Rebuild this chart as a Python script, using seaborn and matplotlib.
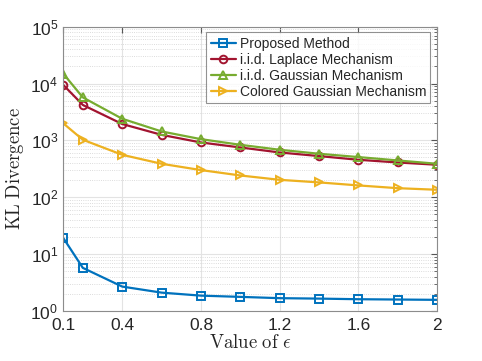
import numpy as np
import pandas as pd
import seaborn as sns
import matplotlib
matplotlib.use('Agg')
import matplotlib.pyplot as plt
from matplotlib.ticker import LogLocator, NullFormatter, FixedLocator

# values
eps = [0.1, 0.2, 0.4, 0.6, 0.8, 1.0, 1.2, 1.4, 1.6, 1.8, 2.0]
proposed = [19.3, 5.7, 2.67, 2.09, 1.85, 1.76, 1.67, 1.64, 1.60, 1.58, 1.56]
laplace = [9500, 4200, 1940, 1250, 918, 750, 612, 529, 455, 408, 372]
gaussian = [15000, 5700, 2400, 1435, 1050, 835, 683, 581, 508, 443, 387]
colored = [2000, 1025, 557, 387, 300, 241, 202, 182, 161, 144, 135]

names = ["Proposed Method", "i.i.d. Laplace Mechanism",
         "i.i.d. Gaussian Mechanism", "Colored Gaussian Mechanism"]
colors = ["#0072BD", "#A2142F", "#77AC30", "#EDB120"]
markers = ["s", "o", "^", ">"]
xticks = [0.1, 0.4, 0.8, 1.2, 1.6, 2]

df = pd.DataFrame({"eps": eps * 4,
                   "kl": proposed + laplace + gaussian + colored,
                   "method": sum([[n] * len(eps) for n in names], [])})

sns.set_style('white')
plt.rcParams['font.family'] = ['Liberation Sans', 'DejaVu Sans']
plt.rcParams['mathtext.fontset'] = 'cm'

fig = plt.figure(figsize=(4.82, 3.61), dpi=100)
ax = fig.add_axes([0.131, 0.139, 0.776, 0.787])

for n, c, m in zip(names, colors, markers):
    sub = df[df.method == n]
    sns.lineplot(data=sub, x="eps", y="kl", color=c, marker=m, mfc='none',
                 mec=c, mew=1.4, ms=5.5, lw=1.6, label=n, ax=ax)

ax.set_yscale('log')
ax.set_ylim(1, 1e5)
ax.set_xlim(0.1, 2)
ax.xaxis.set_major_locator(FixedLocator(xticks))
ax.set_xticklabels([f"{t:g}" for t in xticks])
ax.yaxis.set_major_locator(LogLocator(base=10, numticks=10))
ax.yaxis.set_minor_locator(LogLocator(base=10, subs=np.arange(2, 10), numticks=10))
ax.yaxis.set_minor_formatter(NullFormatter())

ax.grid(True, which='major', color='#e3e3e3', lw=0.8)
ax.grid(True, which='minor', axis='y', color='#d0d0d0', lw=0.6, ls=':')
ax.set_axisbelow(True)

for s in ax.spines.values():
    s.set_color('#8c8c8c')
    s.set_linewidth(0.8)
ax.tick_params(which='both', direction='in', top=True, right=True,
               color='#555555', labelsize=12.5, labelcolor='#262626')
ax.tick_params(which='major', length=4)
ax.tick_params(which='minor', length=2)
ax.tick_params(axis='x', pad=5)

ax.set_xlabel(r'$\mathrm{Value\ of}\ \epsilon$', fontsize=13.5, color='#262626', labelpad=1)
ax.set_ylabel(r'$\mathrm{KL\ Divergence}$', fontsize=13.5, color='#262626', labelpad=3)

leg = ax.legend(loc='upper right', bbox_to_anchor=(0.982, 0.98), fontsize=10,
                frameon=True, fancybox=False, edgecolor='#777777',
                handlelength=1.8, handletextpad=0.3, borderpad=0.3,
                labelspacing=0.15, borderaxespad=0)
leg.get_frame().set_linewidth(0.8)

fig.savefig('out.png', dpi=100)
